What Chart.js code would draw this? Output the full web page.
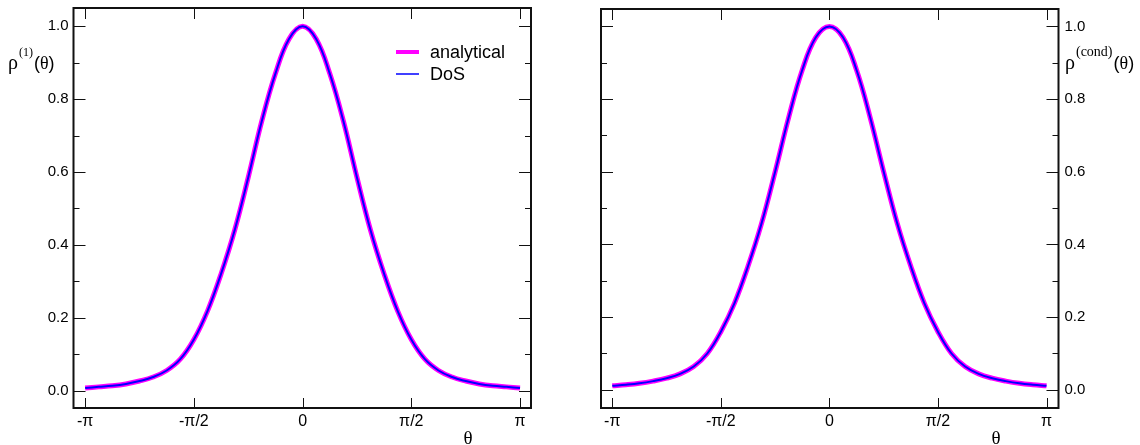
<!DOCTYPE html>
<html><head><meta charset="utf-8">
<script src="https://cdn.jsdelivr.net/npm/chart.js@4.4.1/dist/chart.umd.min.js"></script>
<style>
html,body{margin:0;padding:0;background:#fff;overflow:hidden;}
#wrap{position:relative;width:1140px;height:445px;}
.box{position:absolute;top:0;width:570px;height:445px;}
canvas{display:block;}
</style></head><body>
<div id="wrap">
<div class="box" style="left:0"><canvas id="c1" width="570" height="445"></canvas></div>
<div class="box" style="left:570px"><canvas id="c2" width="570" height="445"></canvas></div>
</div>
<script>
// angle grid (radians), steps of pi/16 from -pi to pi
const theta = [-3.1416,-2.9452,-2.7489,-2.5525,-2.3562,-2.1598,-1.9635,-1.7671,-1.5708,-1.3744,-1.1781,-0.9817,-0.7854,-0.5890,-0.3927,-0.1963,0,
  0.1963,0.3927,0.5890,0.7854,0.9817,1.1781,1.3744,1.5708,1.7671,1.9635,2.1598,2.3562,2.5525,2.7489,2.9452,3.1416];
// left panel: rho^(1)(theta)
const rhoOneAnalytical = [0.007,0.010,0.013,0.018,0.026,0.037,0.055,0.086,0.140,0.218,0.320,0.440,0.585,0.740,0.870,0.965,1.000,
  0.965,0.870,0.740,0.585,0.440,0.320,0.218,0.140,0.086,0.055,0.037,0.026,0.018,0.013,0.010,0.007];
const rhoOneDoS = [0.007,0.010,0.013,0.018,0.026,0.037,0.055,0.086,0.140,0.218,0.320,0.440,0.585,0.740,0.870,0.965,1.000,
  0.965,0.870,0.740,0.585,0.440,0.320,0.218,0.140,0.086,0.055,0.037,0.026,0.018,0.013,0.010,0.007];
// right panel: rho^(cond)(theta)
const rhoCondAnalytical = [0.011,0.014,0.018,0.024,0.032,0.044,0.064,0.100,0.160,0.238,0.340,0.458,0.600,0.750,0.880,0.970,1.000,
  0.970,0.880,0.750,0.600,0.458,0.340,0.238,0.160,0.100,0.064,0.044,0.032,0.024,0.018,0.014,0.011];
const rhoCondDoS = [0.011,0.014,0.018,0.024,0.032,0.044,0.064,0.100,0.160,0.238,0.340,0.458,0.600,0.750,0.880,0.970,1.000,
  0.970,0.880,0.750,0.600,0.458,0.340,0.238,0.160,0.100,0.064,0.044,0.032,0.024,0.018,0.014,0.011];

const xTickValues = [-Math.PI, -Math.PI/2, 0, Math.PI/2, Math.PI];
const xTickLabels = ['-\u03c0','-\u03c0/2','0','\u03c0/2','\u03c0'];
const yTickValues = [0, 0.2, 0.4, 0.6, 0.8, 1.0];
const yMinorValues = [0.1, 0.3, 0.5, 0.7, 0.9];
const seriesLabels = ['analytical', 'DoS'];
const seriesColors = ['#ff00ff', '#0000ff'];

const SANS = '"Liberation Sans", Arial, Helvetica, sans-serif';
const SERIF = '"Liberation Serif", "Times New Roman", serif';

const framePlugin = {
  id: 'frame',
  afterDraw(chart) {
    const {ctx, chartArea: a, scales: {x, y}} = chart;
    ctx.save();
    ctx.strokeStyle = '#111';
    ctx.lineWidth = 1;
    const seg = (x1, y1, x2, y2) => { ctx.beginPath(); ctx.moveTo(x1, y1); ctx.lineTo(x2, y2); ctx.stroke(); };
    xTickValues.forEach(v => {
      const px = Math.round(x.getPixelForValue(v)) + 0.5;
      seg(px, a.bottom, px, a.bottom - 10);
      seg(px, a.top, px, a.top + 11);
    });
    yTickValues.forEach(v => {
      const py = Math.round(y.getPixelForValue(v)) + 0.5;
      seg(a.left, py, a.left + 12, py);
      seg(a.right, py, a.right - 12, py);
    });
    yMinorValues.forEach(v => {
      const py = Math.round(y.getPixelForValue(v)) + 0.5;
      seg(a.left, py, a.left + 6, py);
      seg(a.right, py, a.right - 6, py);
    });
    ctx.lineWidth = 2;
    ctx.strokeRect(a.left, a.top, a.right - a.left, a.bottom - a.top);
    ctx.restore();
  }
};

function drawTitleParts(ctx, x0, baseline, supText) {
  ctx.fillStyle = '#000';
  ctx.textBaseline = 'alphabetic';
  ctx.textAlign = 'left';
  let x = x0;
  ctx.font = '20px ' + SERIF;
  ctx.fillText('\u03c1', x, baseline);
  x += ctx.measureText('\u03c1').width + 1;
  ctx.font = supText.font;
  ctx.fillText(supText.text, x, baseline - 13);
  x += ctx.measureText(supText.text).width + 1;
  ctx.font = '18px ' + SANS;
  ctx.fillText('(', x, baseline);
  x += ctx.measureText('(').width;
  ctx.font = '18px ' + SERIF;
  ctx.fillText('\u03b8', x, baseline);
  x += ctx.measureText('\u03b8').width;
  ctx.font = '18px ' + SANS;
  ctx.fillText(')', x, baseline);
}

function zeroPad(s) { s.paddingTop = 0; s.paddingBottom = 0; s.paddingLeft = 0; s.paddingRight = 0; }

function makeChart(id, cfg) {
  const legendPlugin = {
    id: 'legendInside',
    afterDraw(chart) {
      const ctx = chart.ctx;
      ctx.save();
      drawTitleParts(ctx, cfg.titleX, 69, cfg.sup);
      ctx.font = '19px ' + SERIF;
      ctx.textAlign = 'center';
      ctx.textBaseline = 'alphabetic';
      ctx.fillStyle = '#000';
      ctx.fillText('\u03b8', cfg.thetaX, 444);
      if (cfg.legend) {
        seriesLabels.forEach((lab, i) => {
          const ds = chart.data.datasets.find(d => d.label === lab);
          const yy = 52 + i * 22;
          ctx.strokeStyle = ds.borderColor;
          ctx.lineWidth = i === 0 ? 4 : 1.5;
          ctx.beginPath(); ctx.moveTo(396, yy); ctx.lineTo(419, yy); ctx.stroke();
          ctx.fillStyle = '#000';
          ctx.font = '18px ' + SANS;
          ctx.textAlign = 'left';
          ctx.textBaseline = 'middle';
          ctx.fillText(lab, 430, yy + 1);
        });
      }
      ctx.restore();
    }
  };
  return new Chart(document.getElementById(id), {
    type: 'line',
    data: {
      datasets: [
        { label: seriesLabels[0], data: theta.map((t, i) => ({x: t, y: cfg.analytical[i]})),
          borderColor: seriesColors[0], borderWidth: 5, pointRadius: 0, tension: 0.4, order: 2, fill: false },
        { label: seriesLabels[1], data: theta.map((t, i) => ({x: t, y: cfg.dos[i]})),
          borderColor: seriesColors[1], borderWidth: 2, pointRadius: 0, tension: 0.4, order: 1, fill: false }
      ]
    },
    options: {
      responsive: false,
      devicePixelRatio: 1,
      animation: false,
      layout: { padding: cfg.padding },
      plugins: { legend: { display: false }, tooltip: { enabled: false } },
      scales: {
        x: {
          type: 'linear', position: 'bottom', min: cfg.xmin, max: cfg.xmax,
          afterBuildTicks: s => { s.ticks = xTickValues.map(v => ({value: v})); },
          afterFit: s => { s.height = 37; zeroPad(s); },
          ticks: { callback: (v, i) => xTickLabels[i], autoSkip: false, maxRotation: 0, padding: 4,
                   color: '#000', font: { family: SANS, size: 16 } },
          grid: { display: false, drawTicks: false },
          border: { display: false }
        },
        y: {
          type: 'linear', position: cfg.yPos, min: cfg.ymin, max: cfg.ymax,
          afterBuildTicks: s => { s.ticks = yTickValues.map(v => ({value: v})); },
          afterFit: s => { s.width = cfg.yWidth; zeroPad(s); },
          ticks: { callback: v => Number(v).toFixed(1), autoSkip: false, padding: cfg.yPad,
                   color: '#000', font: { family: SANS, size: 15 } },
          grid: { display: false, drawTicks: false },
          border: { display: false }
        }
      }
    },
    plugins: [framePlugin, legendPlugin]
  });
}

makeChart('c1', {
  analytical: rhoOneAnalytical, dos: rhoOneDoS,
  xmin: -3.31, xmax: 3.30, ymin: -0.048, ymax: 1.05,
  padding: { top: 8, right: 39, left: 0, bottom: 0 },
  yPos: 'left', yWidth: 73.5, yPad: 5,
  titleX: 8, sup: { text: '(1)', font: '12px ' + SERIF },
  thetaX: 468, legend: true
});
makeChart('c2', {
  analytical: rhoCondAnalytical, dos: rhoCondDoS,
  xmin: -3.305, xmax: 3.315, ymin: -0.05, ymax: 1.048,
  padding: { top: 9, right: 0, left: 31, bottom: 0 },
  yPos: 'right', yWidth: 81.5, yPad: 6,
  titleX: 1065 - 570, sup: { text: '(cond)', font: '14px ' + SERIF },
  thetaX: 996 - 570, legend: false
});
</script>
</body></html>
